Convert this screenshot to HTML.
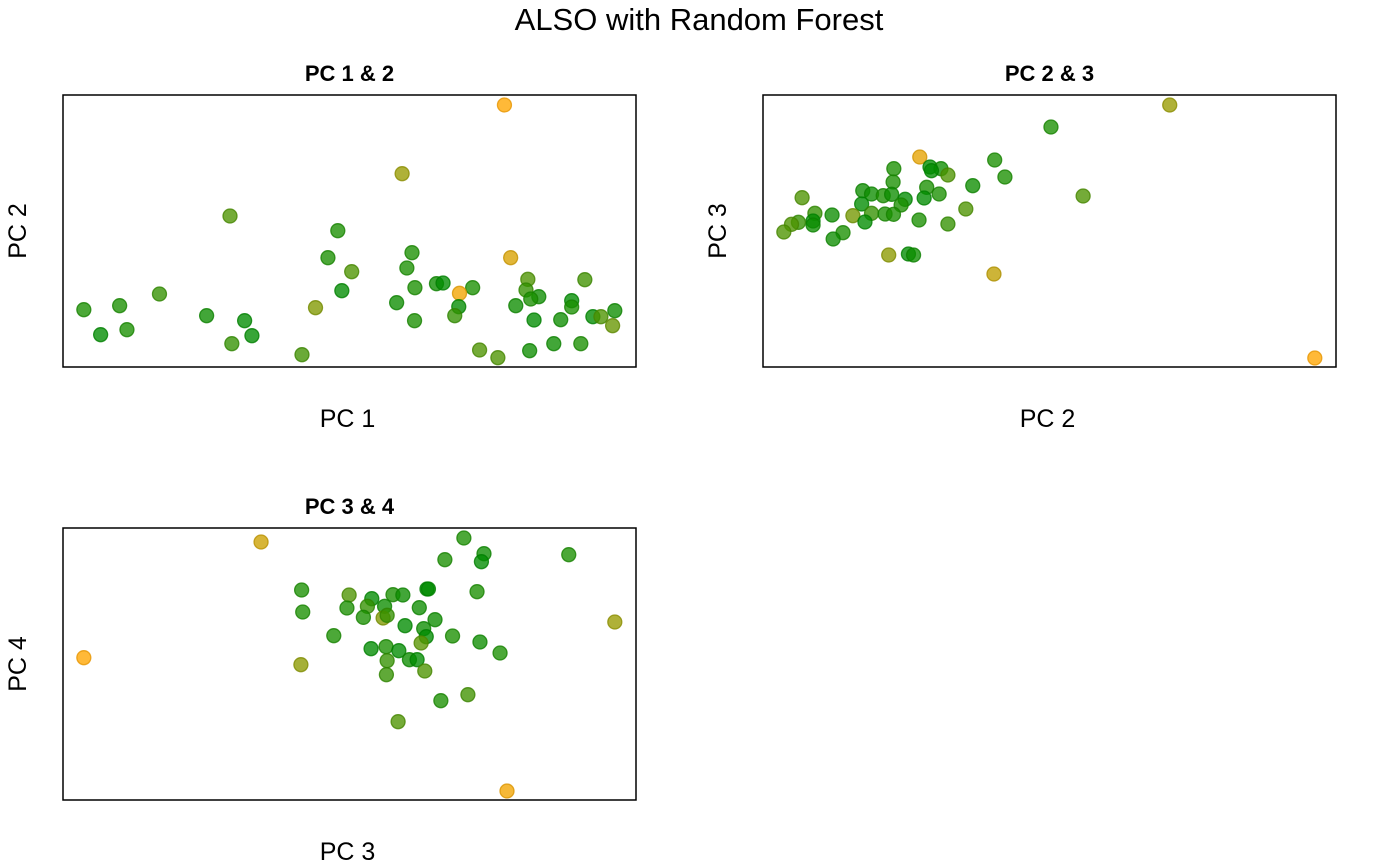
<!DOCTYPE html>
<html><head><meta charset="utf-8"><style>
html,body{margin:0;padding:0;background:#fff;}
svg{display:block;font-family:"Liberation Sans",Arial,sans-serif;}
</style></head><body>
<svg id="chart" width="1400" height="865" viewBox="0 0 1400 865">
<text x="699" y="30" text-anchor="middle" font-size="31">ALSO with Random Forest</text>
</svg>
<script>
// Panel 1: PC1 vs PC2
const p1x=[12.08,9.28,4.57,7.52,9.55,7.25,12.25,9.41,7.90,12.72,14.28,2.64,9.63,10.22,10.40,11.21,10.85,7.63,12.67,13.02,12.80,13.92,13.92,1.55,0.57,9.13,12.39,6.91,10.83,3.93,4.97,10.72,12.89,13.62,14.50,14.72,15.10,15.04,9.62,1.75,1.03,5.17,4.62,11.40,13.43,14.17,12.77,11.90,6.54];
const p1y=[7.86,5.80,4.53,4.09,3.43,3.28,3.28,2.97,2.86,2.63,2.62,2.19,2.38,2.50,2.52,2.38,2.21,2.29,2.31,2.11,2.04,1.99,1.80,1.84,1.72,1.93,1.84,1.78,1.81,1.54,1.39,1.54,1.41,1.42,1.51,1.51,1.69,1.24,1.39,1.12,0.97,0.94,0.70,0.51,0.70,0.70,0.49,0.28,0.37];
const p1s=[1,0.6,0.3,0.1,0.1,0.1,0.85,0.1,0.3,0.3,0.25,0.2,0.1,0.05,0,0.1,0.95,0,0.2,0.05,0.1,0,0.1,0.1,0.1,0.05,0.05,0.5,0,0.05,0,0.2,0,0.05,0,0.3,0.05,0.4,0.1,0.1,0,0,0.2,0.3,0.05,0.1,0.05,0.3,0.25];
// Panel 2: PC2 vs PC3
const p2x=[11.13,7.88,4.29,6.34,3.58,4.57,4.87,4.61,5.06,6.62,3.56,5.74,4.48,2.73,2.97,3.29,3.52,4.82,3.89,4.41,1.07,8.76,3.78,2.70,5.55,1.42,1.89,2.46,2.97,3.34,3.57,1.37,0.97,0.78,1.37,2.79,4.27,5.06,0.57,2.19,1.92,3.44,3.98,4.12,6.32,15.10];
const p2y=[7.86,7.20,6.30,6.21,5.95,6.00,5.95,5.89,5.76,5.70,5.55,5.44,5.39,5.29,5.19,5.14,5.18,5.19,5.03,5.07,5.08,5.13,4.86,4.89,4.74,4.61,4.56,4.54,4.61,4.59,4.58,4.38,4.34,4.28,4.26,4.35,4.41,4.29,4.05,4.03,3.84,3.36,3.39,3.36,2.79,0.27];
const p2s=[0.6,0.1,0.9,0.1,0.1,0,0.05,0,0.3,0.1,0.1,0.05,0.1,0.05,0.05,0.1,0.05,0.1,0,0,0.3,0.3,0.1,0,0.3,0.2,0.05,0.45,0.2,0.1,0.1,0,0.2,0.3,0.05,0,0.1,0.2,0.3,0.1,0.05,0.55,0,0.05,0.75,1];
// Panel 3: PC3 vs PC4
const p3x=[5.42,10.97,11.52,11.45,10.45,13.84,6.53,9.96,10.00,11.33,7.83,8.45,9.03,9.30,6.56,7.77,8.33,8.80,9.75,8.22,8.76,8.87,10.18,9.36,9.87,7.41,10.66,9.94,9.80,11.41,8.43,8.84,9.19,9.48,9.69,11.96,8.87,6.51,0.57,8.85,9.90,15.10,11.08,10.34,9.17,12.15];
const p3y=[7.74,7.86,7.39,7.15,7.21,7.36,6.30,6.33,6.33,6.25,6.15,6.04,6.16,6.15,5.64,5.76,5.81,5.81,5.77,5.48,5.46,5.54,5.41,5.23,5.14,4.93,4.92,4.90,4.71,4.74,4.54,4.60,4.48,4.21,4.21,4.41,4.18,4.06,4.27,3.76,3.87,5.34,3.16,2.98,2.35,0.27];
const p3s=[0.8,0.1,0.05,0,0.1,0.1,0.1,0,0,0.1,0.3,0,0.1,0.05,0.1,0.1,0.2,0.05,0.05,0.1,0.5,0.2,0.05,0,0.05,0.1,0.1,0,0.35,0.05,0,0.1,0,0.05,0,0.1,0.2,0.55,1,0.2,0.3,0.6,0.25,0.1,0.3,0.95];

const NS='http://www.w3.org/2000/svg';
const svg=document.getElementById('chart');
function mk(tag,attrs,parent){const e=document.createElementNS(NS,tag);for(const k in attrs)e.setAttribute(k,attrs[k]);(parent||svg).appendChild(e);return e;}
function colorFor(s){
  const g=[0,140,0],o=[255,165,0];
  return [Math.round(g[0]+(o[0]-g[0])*s),Math.round(g[1]+(o[1]-g[1])*s),0];
}
function panel(name,left,top,xs,ys,ss,title,xl,yl){
  const W=573,H=272;
  const xScale=v=>left+v/15.68*W;
  const yScale=v=>top+H-v/8.16*H;
  const g=mk('g',{});
  
  
  const t=mk('text',{x:left+W/2,y:top-14,'text-anchor':'middle','font-size':'22','font-weight':'bold'},g);
  t.textContent=title;
  
  
  for(let i=0;i<xs.length;i++){
    const c=colorFor(ss[i]);
    const p=mk('circle',{cx:xScale(xs[i]),cy:yScale(ys[i]),r:7,fill:`rgba(${c[0]},${c[1]},${c[2]},0.78)`,stroke:`rgba(${Math.round(c[0]*0.9)},${Math.round(c[1]*0.9)},0,0.8)`,'stroke-width':1.3},g);
    
    
  }
  const fr=mk('rect',{x:left,y:top,width:W,height:H,fill:'none',stroke:'#000','stroke-width':1.5},g);
  
  
  const xt=mk('text',{x:left+W/2-2,y:top+H+60,'text-anchor':'middle','font-size':'25'},g);
  xt.textContent=xl;
  
  
  const cy=top+H/2;
  const yx=left-37;
  const yt=mk('text',{x:yx,y:cy,'text-anchor':'middle','font-size':'25',transform:`rotate(-90 ${yx} ${cy})`},g);
  yt.textContent=yl;
  
  
}
panel('panel-pc1-pc2',63,95,p1x,p1y,p1s,'PC 1 & 2','PC 1','PC 2');
panel('panel-pc2-pc3',763,95,p2x,p2y,p2s,'PC 2 & 3','PC 2','PC 3');
panel('panel-pc3-pc4',63,528,p3x,p3y,p3s,'PC 3 & 4','PC 3','PC 4');
</script>
</body></html>
